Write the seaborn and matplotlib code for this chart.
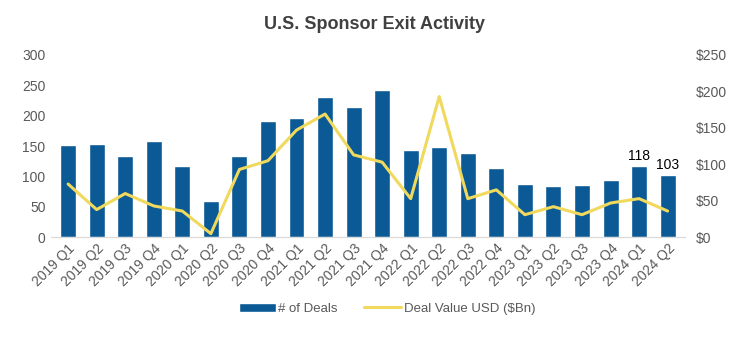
import seaborn as sns
import matplotlib.pyplot as plt
import pandas as pd

quarters = ['2019 Q1', '2019 Q2', '2019 Q3', '2019 Q4', '2020 Q1', '2020 Q2', '2020 Q3', '2020 Q4',
            '2021 Q1', '2021 Q2', '2021 Q3', '2021 Q4', '2022 Q1', '2022 Q2', '2022 Q3', '2022 Q4',
            '2023 Q1', '2023 Q2', '2023 Q3', '2023 Q4', '2024 Q1', '2024 Q2']
deals = [152, 153, 133, 159, 117, 59, 133, 192, 196, 230, 215, 243,
         144, 148, 139, 114, 87, 85, 86, 95, 118, 103]
deal_value = [73, 38, 60, 43, 36, 5, 93, 105, 147, 169, 113, 103,
              53, 193, 53, 65, 31, 42, 31, 47, 53, 36]

df = pd.DataFrame({'Quarter': quarters, 'Deals': deals, 'Value': deal_value})

sns.set_style('white')
plt.rcParams['font.family'] = ['Liberation Sans', 'DejaVu Sans']

bar_color = '#0b5a96'
line_color = '#f0d95c'
tick_color = '#595959'

fig, ax = plt.subplots(figsize=(7.5, 3.5), dpi=100)
fig.subplots_adjust(left=0.068, right=0.913, top=0.843, bottom=0.322)

sns.barplot(data=df, x='Quarter', y='Deals', color=bar_color, width=0.56, ax=ax,
            label='# of Deals', saturation=1, legend=False)
ax.set_ylim(0, 300)
ax.set_yticks(range(0, 301, 50))
ax.set_xlim(-0.6, len(quarters) - 0.4)

ax2 = ax.twinx()
sns.lineplot(x=range(len(quarters)), y=df['Value'], color=line_color, linewidth=2.2, ax=ax2,
             label='Deal Value USD ($Bn)', legend=False)
ax2.set_ylim(0, 250)
ax2.set_yticks(range(0, 251, 50))
ax2.set_yticklabels([f'${v}' for v in range(0, 251, 50)])

for a in (ax, ax2):
    for s in a.spines.values():
        s.set_visible(False)
    a.tick_params(axis='y', length=0, labelsize=10, labelcolor=tick_color, pad=4)
    a.set_xlabel('')
    a.set_ylabel('')
ax.spines['bottom'].set_visible(True)
ax.spines['bottom'].set_color('#d9d9d9')
ax.tick_params(axis='x', length=0, labelsize=10, labelcolor=tick_color, pad=3)
ax2.tick_params(axis='y', pad=8)
plt.setp(ax.get_xticklabels(), rotation=45, ha='right', rotation_mode='anchor')

# labels on last two bars
for i in (20, 21):
    ax.text(i, deals[i] + 5, str(deals[i]), ha='center', va='bottom', fontsize=10, color='black')

fig.suptitle('U.S. Sponsor Exit Activity', fontsize=13, fontweight='bold', color='#404040', y=0.955)

if ax.get_legend() is not None:
    ax.get_legend().remove()
h1, l1 = ax.get_legend_handles_labels()
h2, l2 = ax2.get_legend_handles_labels()
fig.legend(h1 + h2, l1 + l2, loc='center', bbox_to_anchor=(0.516, 0.118), ncol=2,
           frameon=False, fontsize=9.5, labelcolor=tick_color, handlelength=2.8,
           handletextpad=0.2, columnspacing=2.0)

plt.savefig('out.png', dpi=100)
